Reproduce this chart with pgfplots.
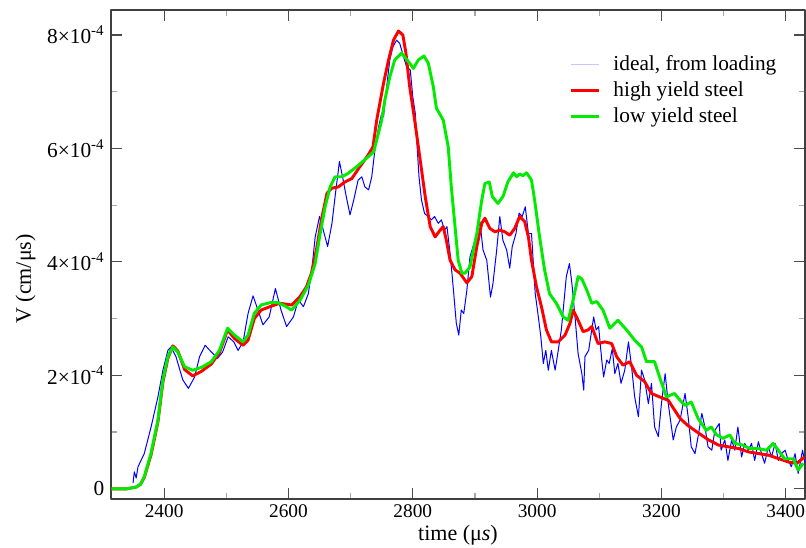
\documentclass[border=0pt]{standalone}
\usepackage{pgfplots}
\pgfplotsset{compat=1.18}
\usepackage{fontspec}
\setmainfont{Liberation Serif}
\definecolor{lgreen}{RGB}{0,235,0}
\begin{document}
\fontsize{14.5}{17}\selectfont
\begin{tikzpicture}
\useasboundingbox (-83.25pt,-36.75pt) rectangle (521.25pt,374.25pt);
\begin{axis}[
  scale only axis,
  width=520.5pt, height=366.75pt,
  xmin=2314.5, xmax=3431,
  ymin=-0.18, ymax=8.44,
  xtick={2400,2600,2800,3000,3200,3400},
  minor xtick={2500,2700,2900,3100,3300},
  ytick={0,2,4,6,8},
  minor ytick={1,3,5,7},
  yticklabels={0, 2\texttimes10\textsuperscript{-4}, 4\texttimes10\textsuperscript{-4}, 6\texttimes10\textsuperscript{-4}, 8\texttimes10\textsuperscript{-4}},
  yticklabel style={font=\fontsize{16}{19}\selectfont},
  /pgf/number format/assume math mode=true,
  /pgf/number format/1000 sep={},
  tick align=inside,
  major tick length=8pt,
  minor tick length=4.5pt,
  every tick/.style={black!70, line width=0.9pt},
  minor tick style={black!35, line width=0.9pt},
  axis line style={black!75, line width=1.1pt},
  xticklabel style={yshift=1pt},
  every axis x label/.style={at={(axis description cs:0.5,0)}, anchor=center, yshift=-27pt, font=\fontsize{16.5}{19}\selectfont},
  every axis y label/.style={at={(axis description cs:-0.123,0.45)}, anchor=center, rotate=90, font=\fontsize{16.5}{19}\selectfont},
  xlabel={time (μ\textit{s})},
  ylabel={V (cm/μs)},
  legend style={at={(0.655,0.918)}, anchor=north west, draw=none, fill=none, row sep=2pt,
    font=\fontsize{16}{19}\selectfont},
  legend cell align=left,
  legend image code/.code={\draw[#1] (0pt,0pt) -- (21pt,0pt); \path (28.5pt,0pt);},
  line join=round,
]
\addlegendimage{blue!22, line width=1.2pt}
\addplot[blue, line width=0.75pt, forget plot] coordinates {
(2350,0.10) (2352,0.30) (2355,0.19) (2358,0.39) (2368,0.62) (2379,1.09) (2390,1.62) (2398,2.09)
(2406,2.44) (2411,2.50) (2419,2.33) (2430,1.92) (2439,1.77) (2449,1.97) (2457,2.33) (2466,2.53)
(2476,2.41) (2486,2.30) (2494,2.41) (2503,2.68) (2512,2.59) (2519,2.44) (2527,2.59) (2535,3.09)
(2543,3.40) (2551,3.15) (2559,2.89) (2569,3.03) (2579,3.53) (2588,3.15) (2597,2.86) (2608,3.03)
(2616,3.33) (2624,3.21) (2632,3.44) (2638,3.91) (2643,4.44) (2650,4.80) (2656,4.56) (2663,4.27)
(2670,4.68) (2675,5.15) (2682,5.77) (2687,5.50) (2693,5.15) (2699,4.83) (2705,5.09) (2712,5.44)
(2718,5.50) (2723,5.32) (2729,5.27) (2734,5.50) (2739,5.97) (2745,6.38) (2750,6.62) (2753,6.56)
(2758,7.09) (2763,7.56) (2768,7.79) (2774,7.91) (2779,7.85) (2785,7.62) (2790,7.44) (2796,7.38)
(2800,6.91) (2804,6.62) (2807,6.03) (2810,5.50) (2814,5.09) (2819,4.85) (2825,4.80) (2830,4.74)
(2835,4.80) (2841,4.68) (2846,4.74) (2851,4.56) (2855,4.62) (2860,4.15) (2864,3.68) (2870,2.92)
(2874,2.71) (2878,3.15) (2882,3.09) (2887,3.50) (2892,4.09) (2897,4.27) (2903,4.50) (2908,4.71)
(2913,4.21) (2919,4.03) (2925,3.38) (2929,3.62) (2935,4.21) (2940,4.80) (2945,4.38) (2951,4.21)
(2956,3.89) (2960,4.27) (2966,4.50) (2971,4.86) (2976,4.80) (2981,4.97) (2986,4.50) (2991,4.50)
(2997,3.44) (3002,3.03) (3006,2.68) (3010,2.21) (3014,2.44) (3018,2.09) (3023,2.44) (3029,2.09)
(3034,2.44) (3039,2.80) (3043,3.27) (3047,3.74) (3052,3.97) (3056,3.62) (3061,3.03) (3066,2.38)
(3072,2.03) (3075,1.74) (3077,2.33) (3083,2.44) (3091,3.03) (3095,2.80) (3099,2.86) (3104,2.27)
(3107,1.97) (3112,2.27) (3116,2.21) (3121,2.47) (3125,2.03) (3130,2.21) (3135,1.86) (3141,2.09)
(3147,2.59) (3152,2.15) (3157,1.62) (3163,1.27) (3168,2.09) (3173,1.92) (3179,1.50) (3184,1.86)
(3189,1.09) (3195,0.92) (3200,1.50) (3206,2.03) (3211,1.50) (3219,0.86) (3224,1.09) (3230,1.21)
(3238,1.68) (3243,1.27) (3248,0.74) (3254,0.62) (3259,0.92) (3265,1.33) (3270,1.09) (3275,0.74)
(3281,0.68) (3286,1.03) (3293,1.15) (3296,0.68) (3302,0.86) (3307,0.50) (3313,0.86) (3318,0.68)
(3323,1.09) (3329,0.56) (3334,0.80) (3340,0.68) (3345,0.80) (3350,0.50) (3356,0.83) (3361,0.62)
(3366,0.45) (3372,0.74) (3377,0.56) (3383,0.80) (3388,0.50) (3393,0.62) (3399,0.68) (3404,0.50)
(3409,0.39) (3415,0.62) (3420,0.27) (3424,0.50) (3427,0.68) (3431,0.45)
};
\addplot[red, line width=2.2pt] coordinates {
(2315,0) (2340,0) (2355,0.03) (2362,0.08) (2368,0.20) (2379,0.60) (2390,1.18) (2398,1.88)
(2406,2.30) (2414,2.52) (2422,2.43) (2433,2.10) (2446,1.99) (2460,2.07) (2476,2.20) (2489,2.40)
(2502,2.80) (2513,2.65) (2527,2.53) (2535,2.62) (2545,3.00) (2556,3.15) (2570,3.21) (2586,3.27)
(2605,3.24) (2618,3.38) (2629,3.56) (2637,3.80) (2645,4.21) (2653,4.74) (2662,5.21) (2670,5.30)
(2680,5.32) (2691,5.41) (2702,5.47) (2715,5.68) (2728,5.88) (2736,6.03) (2742,6.50) (2753,7.15)
(2761,7.56) (2769,7.91) (2777,8.07) (2784,8.00) (2789,7.68) (2795,7.09) (2803,6.50) (2812,5.79)
(2820,5.15) (2828,4.62) (2836,4.44) (2844,4.56) (2849,4.62) (2854,4.38) (2860,4.03) (2868,3.86)
(2876,3.80) (2887,3.63) (2895,3.74) (2903,4.27) (2911,4.68) (2916,4.77) (2924,4.59) (2932,4.53)
(2940,4.56) (2948,4.53) (2956,4.47) (2964,4.59) (2972,4.80) (2980,4.71) (2986,4.44) (2991,4.03)
(2999,3.56) (3007,3.21) (3015,2.80) (3023,2.59) (3034,2.59) (3045,2.71) (3053,2.92) (3058,3.15)
(3066,2.97) (3074,2.77) (3082,2.80) (3088,2.86) (3098,2.56) (3109,2.59) (3120,2.56) (3128,2.33)
(3138,2.18) (3149,2.24) (3160,2.00) (3173,1.89) (3184,1.68) (3197,1.62) (3211,1.56) (3221,1.39)
(3230,1.24) (3242,1.12) (3260,0.98) (3276,0.86) (3292,0.77) (3308,0.74) (3324,0.71) (3340,0.65)
(3357,0.62) (3373,0.59) (3389,0.53) (3405,0.47) (3418,0.45) (3430,0.56)
};
\addplot[lgreen, line width=2.2pt] coordinates {
(2315,0) (2340,0) (2355,0.03) (2362,0.08) (2368,0.21) (2379,0.63) (2390,1.21) (2398,1.92)
(2406,2.33) (2414,2.50) (2422,2.41) (2433,2.15) (2446,2.09) (2460,2.14) (2476,2.24) (2489,2.44)
(2502,2.83) (2513,2.71) (2527,2.59) (2535,2.71) (2545,3.09) (2556,3.24) (2570,3.28) (2583,3.28)
(2595,3.22) (2605,3.15) (2619,3.33) (2632,3.59) (2643,3.97) (2651,4.50) (2659,4.97) (2667,5.32)
(2675,5.50) (2686,5.50) (2696,5.56) (2710,5.68) (2726,5.83) (2737,5.94) (2742,6.15) (2750,6.50)
(2755,6.85) (2763,7.26) (2771,7.56) (2782,7.68) (2793,7.53) (2801,7.41) (2809,7.56) (2818,7.63)
(2825,7.50) (2833,7.09) (2838,6.71) (2849,6.50) (2857,6.03) (2862,5.32) (2868,4.62) (2873,4.03)
(2879,3.80) (2884,3.80) (2892,3.91) (2903,4.50) (2911,5.09) (2916,5.38) (2923,5.41) (2928,5.15)
(2937,5.03) (2945,5.15) (2953,5.41) (2962,5.57) (2967,5.50) (2972,5.55) (2977,5.52) (2983,5.57)
(2991,5.44) (2996,5.09) (3004,4.44) (3012,3.86) (3020,3.44) (3031,3.27) (3042,3.03) (3050,2.97)
(3058,3.33) (3066,3.74) (3072,3.70) (3080,3.50) (3088,3.27) (3096,3.30) (3106,3.15) (3117,2.83)
(3130,2.97) (3144,2.80) (3157,2.62) (3168,2.50) (3176,2.24) (3189,2.24) (3197,1.97) (3208,1.62)
(3221,1.68) (3230,1.56) (3238,1.47) (3248,1.53) (3259,1.24) (3272,1.03) (3280,1.09) (3289,0.95)
(3299,0.89) (3310,0.95) (3318,0.80) (3331,0.77) (3342,0.71) (3355,0.71) (3369,0.68) (3380,0.80)
(3388,0.68) (3398,0.53) (3412,0.53) (3420,0.33) (3428,0.45)
};
\legend{{ideal, from loading}, {high yield steel}, {low yield steel}}
\end{axis}
\end{tikzpicture}
\end{document}
